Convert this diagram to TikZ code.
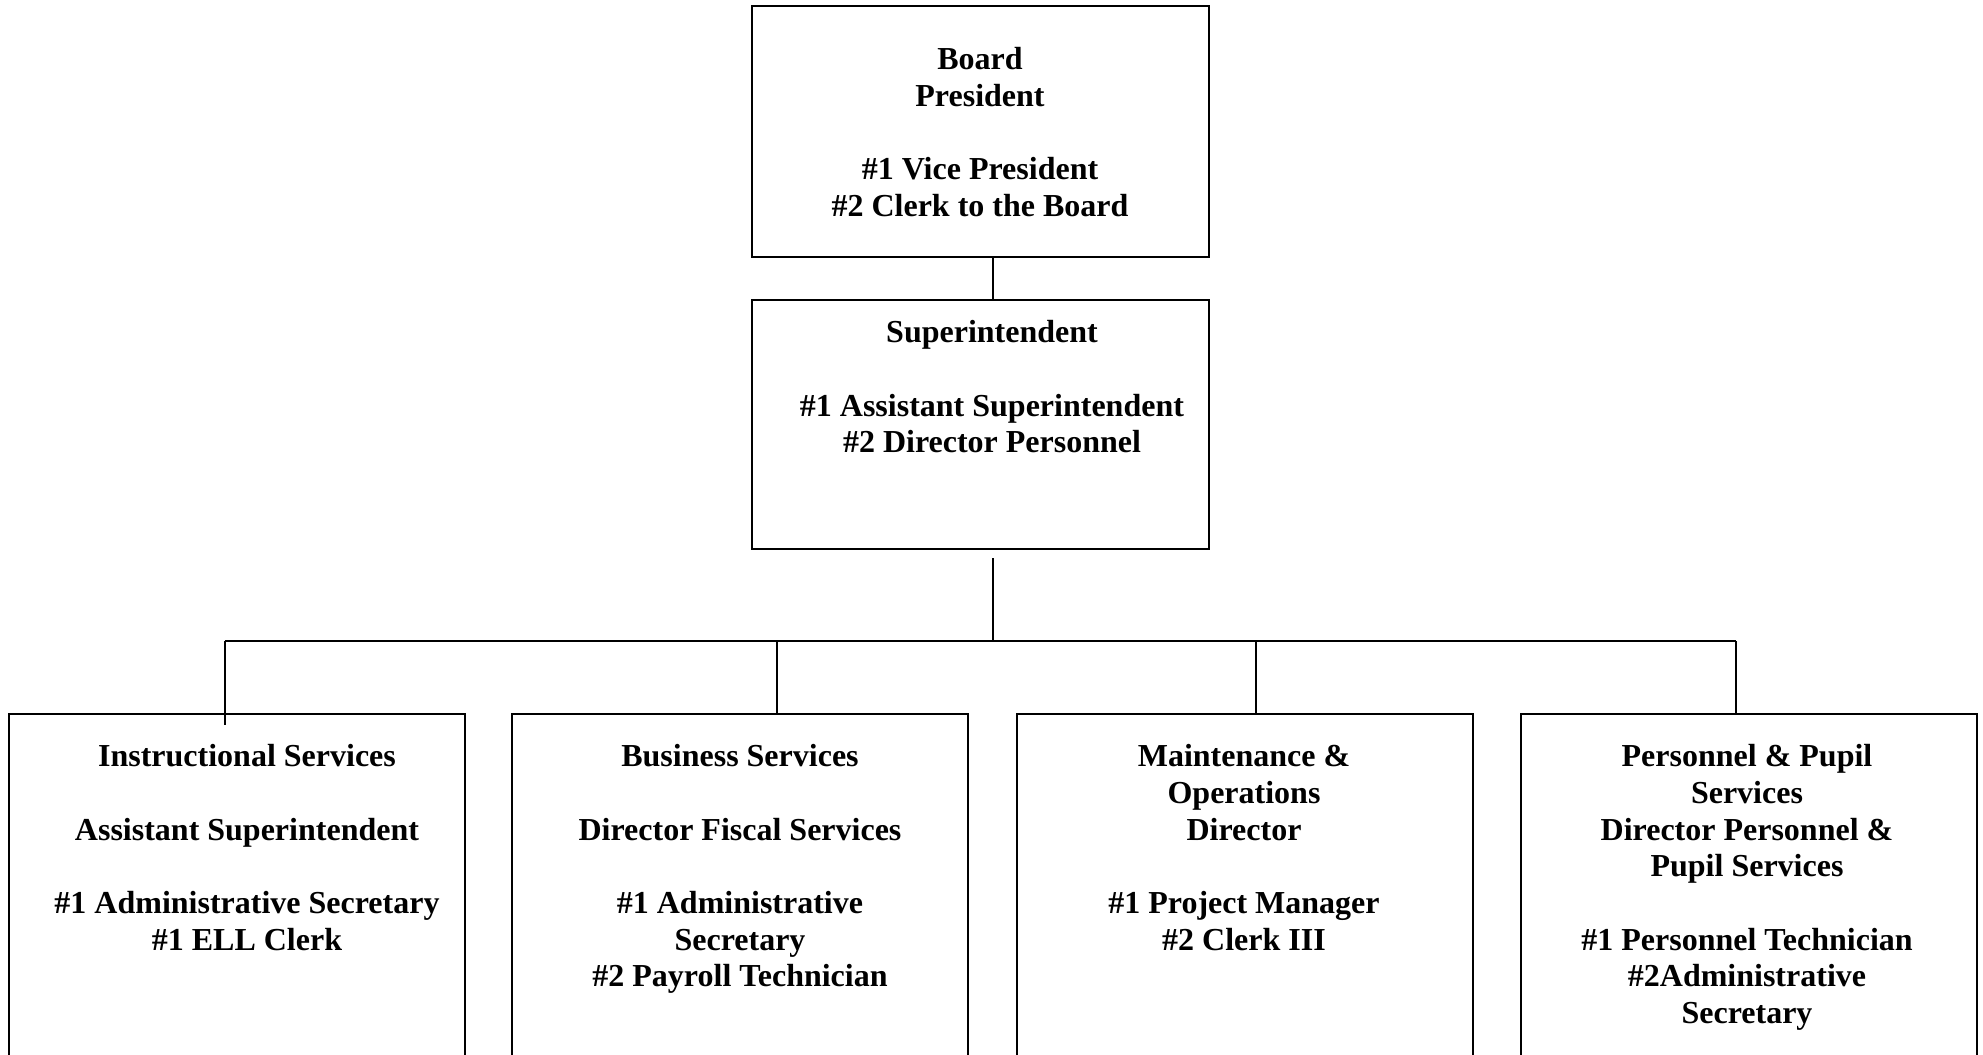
\documentclass[tikz,border=0pt]{standalone}
\usepackage{fontspec}
\setmainfont{Liberation Serif}
\usetikzlibrary{positioning,calc}

\tikzset{
  caja/.style={draw, line width=1pt, minimum width=228.5pt, inner sep=0pt, outer sep=0pt},
  texto/.style={align=center, inner sep=0pt, anchor=north,
    font=\fontsize{16}{18.35}\selectfont\bfseries},
  linea/.style={line width=1pt}
}

\begin{document}
\begin{tikzpicture}[x=0.5pt,y=-0.5pt]
    \useasboundingbox (0,0) rectangle (1983,1055);
    \clip (0,0) rectangle (1983,1055);

    % ~~~~ Cajas ~~~~ %
    \node[caja, minimum height=125.5pt, anchor=north west] (board) at (752,6) {};
    \node[caja, minimum height=124.5pt, anchor=north west] (super) at (752,300) {};
    \node[caja, minimum width=228pt, minimum height=180pt, anchor=north west] (inst) at (9,714) {};
    \node[caja, minimum width=228pt, minimum height=180pt, anchor=north west] (bus) at (512,714) {};
    \node[caja, minimum width=228pt, minimum height=180pt, anchor=north west] (maint) at (1017,714) {};
    \node[caja, minimum width=228pt, minimum height=180pt, anchor=north west] (pers) at (1521,714) {};

    % ~~~~ Textos ~~~~ %
    \node[texto] (boardtxt) at (980,47) {Board\\President\\ ~\\\#1 Vice President\\\#2 Clerk to the Board};
    \node[texto] (supertxt) at (992,320) {Superintendent\\ ~\\\#1 Assistant Superintendent\\\#2 Director Personnel};
    \node[texto] (insttxt) at (247,744) {Instructional Services\\ ~\\Assistant Superintendent\\ ~\\\#1 Administrative Secretary\\\#1 ELL Clerk};
    \node[texto] (bustxt) at (740,744) {Business Services\\ ~\\Director Fiscal Services\\ ~\\\#1 Administrative\\Secretary\\\#2 Payroll Technician};
    \node[texto] (mainttxt) at (1244,744) {Maintenance \&\\Operations\\Director\\ ~\\\#1 Project Manager\\\#2 Clerk III};
    \node[texto] (perstxt) at (1747,744) {Personnel \& Pupil\\Services\\Director Personnel \&\\Pupil Services\\ ~\\\#1 Personnel Technician\\\#2Administrative\\Secretary};

    % ~~~~ Lineas ~~~~ %
    \coordinate (trunk) at (993,641);
    \coordinate (d1) at (225,641);
    \coordinate (d2) at (777,641);
    \coordinate (d3) at (1256,641);
    \coordinate (d4) at (1736,641);

    \draw[linea] (board.south -| trunk) -- (super.north -| trunk);
    \draw[linea] ($(super.south -| trunk)+(0,9)$) -- (trunk);
    \draw[linea] (d1) -- (d4);
    \draw[linea] (d1) -- ($(d1 |- inst.north)+(0,11)$);
    \draw[linea] (d2) -- (d2 |- bus.north);
    \draw[linea] (d3) -- (d3 |- maint.north);
    \draw[linea] (d4) -- (d4 |- pers.north);
\end{tikzpicture}
\end{document}
